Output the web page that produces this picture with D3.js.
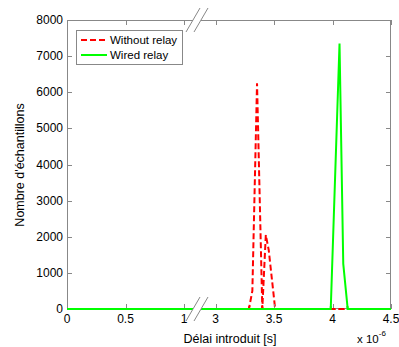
<!DOCTYPE html>
<html><head><meta charset="utf-8">
<script src="https://cdn.jsdelivr.net/npm/d3@7/dist/d3.min.js"></script>
<style>body{margin:0;background:#fff}svg{display:block;font-family:"Liberation Sans",Arial,sans-serif}</style>
</head><body><svg id="c" width="399" height="347"></svg>
<script>
const xTicks = [0, 0.5, 1, 3, 3.5, 4, 4.5];
const yTicks = [0, 1000, 2000, 3000, 4000, 5000, 6000, 7000, 8000];
const seriesNames = ["Without relay", "Wired relay"];
const withoutRelayX = [0, 3.285, 3.29, 3.315, 3.355, 3.40, 3.43, 3.455, 3.51, 4.5];
const withoutRelayY = [0, 0, 80, 500, 6250, 0, 2050, 1630, 0, 0];
const wiredRelayX = [0, 3.985, 4.06, 4.092, 4.13, 4.5];
const wiredRelayY = [0, 0, 7350, 1250, 0, 0];

const svg = d3.select("#c");
const L = 67, R = 391, T = 20, B = 309;
const x = d3.scaleLinear().domain([0, 1.1, 2.85, 4.5]).range([L, L + 117 * 1.1, R - 117 * 1.65, R]);
const y = d3.scaleLinear().domain([0, 8000]).range([B, T]);
const gray = "#888";

svg.append("clipPath").attr("id", "bclip").append("rect").attr("x", 0).attr("y", B - 3).attr("width", 399).attr("height", 10);

const line = d3.line().x(d => x(d[0])).y(d => y(d[1]));
const redData = withoutRelayX.map((v, i) => [v, withoutRelayY[i]]);
const greenData = wiredRelayX.map((v, i) => [v, wiredRelayY[i]]);
function drawRed(clip) {
  const p = svg.append("path").datum(redData).attr("d", line).attr("fill", "none")
    .attr("stroke", "#ff0000").attr("stroke-width", 2).attr("stroke-dasharray", "6,3");
  if (clip) p.attr("clip-path", "url(#bclip)");
}
function drawGreen(clip) {
  const p = svg.append("path").datum(greenData).attr("d", line).attr("fill", "none")
    .attr("stroke", "#00ff00").attr("stroke-width", 2);
  if (clip) p.attr("clip-path", "url(#bclip)");
}
drawRed(false);
drawGreen(false);

// axes frame
const ax = svg.append("g").attr("stroke", gray).attr("stroke-width", 1).attr("fill", "none");
ax.append("rect").attr("x", L + 0.5).attr("y", T + 0.5).attr("width", R - L - 1).attr("height", B - T - 1);
xTicks.forEach(t => {
  const px = Math.round(x(t)) + 0.5;
  ax.append("line").attr("x1", px).attr("x2", px).attr("y1", B).attr("y2", B - 5);
  ax.append("line").attr("x1", px).attr("x2", px).attr("y1", T).attr("y2", T + 5);
});
yTicks.forEach(t => {
  const py = Math.round(y(t)) + 0.5;
  ax.append("line").attr("x1", L).attr("x2", L + 5).attr("y1", py).attr("y2", py);
  ax.append("line").attr("x1", R).attr("x2", R - 5).attr("y1", py).attr("y2", py);
});

// redraw baselines over bottom axis
drawRed(true);
drawGreen(true);

// break
svg.append("rect").attr("x", 193).attr("y", 0).attr("width", 8).attr("height", 330).attr("fill", "#fff");
[T, B].forEach(cy => {
  [186, 194].forEach(sx => {
    svg.append("line").attr("x1", sx).attr("y1", cy + 12).attr("x2", sx + 14).attr("y2", cy - 12)
      .attr("stroke", gray).attr("stroke-width", 1);
  });
});

// tick labels
const tl = svg.append("g").attr("font-size", 12).attr("fill", "#000");
xTicks.forEach(t => {
  tl.append("text").attr("x", x(t)).attr("y", 323).attr("text-anchor", "middle").text(d3.format("")(t));
});
yTicks.forEach(t => {
  tl.append("text").attr("x", 63).attr("y", y(t) + 4).attr("text-anchor", "end").text(t);
});

// axis labels
svg.append("text").attr("x", 230).attr("y", 343).attr("text-anchor", "middle").attr("font-size", 12.5).text("Délai introduit [s]");
svg.append("text").attr("transform", "translate(24,165) rotate(-90)").attr("text-anchor", "middle").attr("font-size", 12.5).text("Nombre d'échantillons");
const ex = svg.append("text").attr("x", 357).attr("y", 343).attr("font-size", 11.5);
ex.append("tspan").text("x 10");
ex.append("tspan").attr("font-size", 8).attr("dy", -7).text("-6");

// legend
const lg = svg.append("g");
lg.append("rect").attr("x", 76.5).attr("y", 30.5).attr("width", 106).attr("height", 34).attr("fill", "#fff").attr("stroke", gray);
const lc = ["#ff0000", "#00ff00"], ld = ["6,3", null];
seriesNames.forEach((n, i) => {
  const ly = 40 + i * 15;
  lg.append("line").attr("x1", 81).attr("x2", 107).attr("y1", ly).attr("y2", ly)
    .attr("stroke", lc[i]).attr("stroke-width", 2).attr("stroke-dasharray", ld[i]);
  lg.append("text").attr("x", 110).attr("y", ly + 4).attr("font-size", 11.5).text(n);
});
</script></body></html>
